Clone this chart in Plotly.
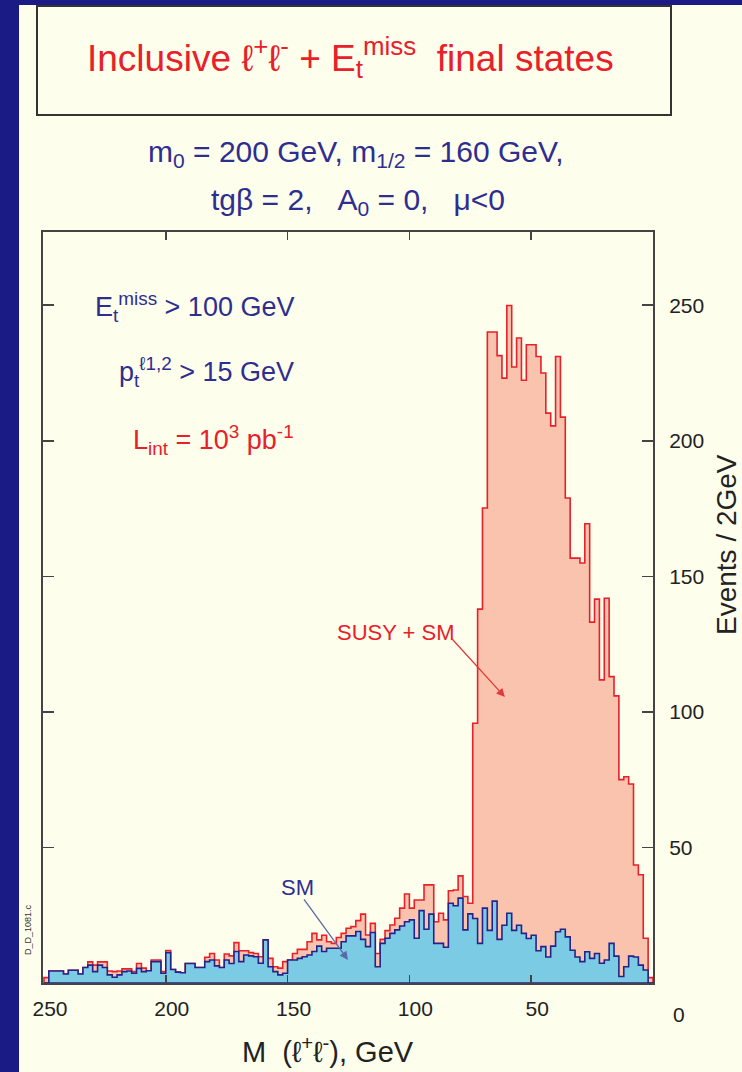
import numpy as np
import plotly.graph_objects as go

# ---------------- data ----------------
bin_width = 2  # GeV
mass_edges = np.arange(0, 252, bin_width)  # 0 ... 250 GeV, 125 bins

# SM background, events / 2 GeV, bins from M = 0-2 up to 248-250
sm = [
    0.0, 4.8, 6.6, 9.6, 9.9, 6.0, 2.4, 9.9, 14.6, 8.5,
    7.3, 10.9, 9.1, 11.5, 7.9, 9.6, 12.1, 17.0, 19.8, 18.9,
    13.6, 9.6, 13.4, 11.9, 17.6, 16.4, 18.3, 21.3, 19.4, 25.7,
    21.3, 16.1, 30.2, 19.4, 27.6, 14.6, 23.8, 25.5, 19.6, 31.3,
    28.5, 29.4, 13.2, 14.6, 14.6, 25.4, 19.8, 26.7, 16.5, 23.3,
    22.6, 21.0, 19.6, 18.3, 16.5, 14.6, 6.0, 18.6, 13.4, 16.1,
    19.0, 17.4, 17.4, 15.2, 12.8, 12.8, 12.8, 11.6, 13.6, 11.6,
    10.3, 9.7, 9.1, 8.5, 8.5, 3.6, 3.0, 4.2, 6.0, 15.9,
    7.3, 9.7, 10.0, 10.3, 7.9, 11.6, 7.2, 8.5, 5.7, 6.3,
    8.5, 7.9, 5.7, 5.7, 7.2, 7.2, 3.8, 4.0, 5.0, 11.2,
    3.6, 7.9, 7.9, 4.5, 4.2, 5.4, 3.6, 4.4, 4.2, 3.0,
    2.1, 3.0, 5.7, 6.6, 4.2, 6.6, 5.7, 3.3, 4.7, 4.7,
    3.3, 4.4, 4.4, 4.4, 0.0,
]

# SUSY + SM, events / 2 GeV
total = [
    2.0, 16.5, 39.9, 43.5, 73.4, 76.1, 75.0, 105.9, 113.0, 141.9,
    111.8, 141.6, 133.1, 169.4, 154.9, 156.7, 156.7, 178.9, 208.7, 231.1,
    205.5, 210.2, 225.0, 231.1, 235.4, 235.4, 222.3, 237.9, 227.2, 249.9,
    223.1, 231.4, 240.1, 240.1, 175.2, 137.9, 95.8, 29.4, 31.9, 39.5,
    34.3, 34.0, 23.3, 25.7, 22.6, 36.2, 36.2, 30.6, 30.6, 27.6,
    32.8, 27.6, 23.9, 21.4, 19.3, 16.1, 10.9, 22.0, 17.7, 25.4,
    23.0, 20.8, 20.2, 18.3, 16.8, 14.6, 15.2, 17.6, 15.9, 18.3,
    15.2, 12.4, 12.4, 10.9, 8.5, 7.9, 5.5, 6.0, 9.1, 15.9,
    9.7, 10.9, 11.2, 11.9, 11.9, 14.9, 10.0, 10.7, 5.7, 8.5,
    10.9, 9.5, 5.7, 5.7, 7.2, 7.2, 3.8, 4.0, 5.0, 12.0,
    4.2, 8.5, 8.5, 4.5, 5.5, 7.2, 4.2, 5.2, 5.2, 4.4,
    4.2, 4.4, 7.8, 7.8, 6.6, 7.8, 5.7, 3.3, 4.7, 4.7,
    3.3, 4.4, 4.4, 4.4, 2.0,
]

x_ticks = [50, 100, 150, 200, 250]
x_tick_labels = ["50", "100", "150", "200", "250"]
y_ticks = [50, 100, 150, 200, 250]
y_tick_labels = ["50", "100", "150", "200", "250"]

# ---------------- styling ----------------
FONT = "Liberation Sans, Arial, Helvetica, sans-serif"
CREAM = "#fefeec"
NAVY = "#1b1b86"
RED = "#e8202a"
SALMON = "#f9c3ad"
BLUE_LINE = "#23238a"
LIGHT_BLUE = "#7ccbe4"
TEXT_BLUE = "#2e2e90"
AXIS = "#444444"

W, H = 742, 1072
PL, PR, PT, PB = 43, 653, 232, 983  # plot area in pixels


def fx(px):
    return (px - PL) / (PR - PL)


def fy(py):
    return (PB - py) / (PB - PT)


def step_path(vals):
    xs = [mass_edges[0]] + list(mass_edges[:-1]) + [mass_edges[-1], mass_edges[-1], mass_edges[0]]
    ys = [0] + list(vals) + [vals[-1], 0, 0]
    return xs, ys


fig = go.Figure()

tx, ty = step_path(total)
fig.add_trace(go.Scatter(
    x=tx, y=ty, mode="lines", line=dict(shape="hv", color=RED, width=1.6),
    fill="toself", fillcolor=SALMON, hoverinfo="skip", showlegend=False,
))
sx, sy = step_path(sm)
fig.add_trace(go.Scatter(
    x=sx, y=sy, mode="lines", line=dict(shape="hv", color=BLUE_LINE, width=1.6),
    fill="toself", fillcolor=LIGHT_BLUE, hoverinfo="skip", showlegend=False,
))

annotations = [
    # title in box
    dict(text="Inclusive ℓ<sup>+</sup>ℓ<sup>-</sup> + E<sub>t</sub><sup>miss</sup>  final states",
         x=fx(350), y=fy(58), font=dict(size=37, color=RED)),
    dict(text="m<sub>0</sub> = 200 GeV, m<sub>1/2</sub> = 160 GeV,",
         x=fx(356), y=fy(154), font=dict(size=30, color=TEXT_BLUE)),
    dict(text="tgβ = 2,   A<sub>0</sub> = 0,   μ&lt;0",
         x=fx(358), y=fy(202), font=dict(size=30, color=TEXT_BLUE)),
    # cuts inside plot
    dict(text="E<sub>t</sub><sup>miss</sup> > 100 GeV", x=fx(296), y=fy(307), xanchor="right",
         font=dict(size=27, color=TEXT_BLUE)),
    dict(text="p<sub>t</sub><sup>ℓ1,2</sup> > 15 GeV", x=fx(296), y=fy(372), xanchor="right",
         font=dict(size=27, color=TEXT_BLUE)),
    dict(text="L<sub>int</sub> = 10<sup>3</sup> pb<sup>-1</sup>", x=fx(296), y=fy(440), xanchor="right",
         font=dict(size=27, color=RED)),
    dict(text="SUSY + SM", x=fx(396), y=fy(632), font=dict(size=22, color=RED)),
    dict(text="SM", x=fx(297), y=fy(887), font=dict(size=22, color=TEXT_BLUE)),
    # axis titles and extra labels
    dict(text="M  (ℓ<sup>+</sup>ℓ<sup>-</sup>), GeV", x=fx(328), y=fy(1050), font=dict(size=29, color="#222")),
    dict(text="Events / 2GeV", x=fx(726), y=fy(545), textangle=-90, font=dict(size=28, color="#222")),
    dict(text="0", x=fx(679), y=fy(1014), font=dict(size=21, color="#222")),
    dict(text="D_D_1081.c", x=fx(28), y=fy(930), textangle=-90, font=dict(size=9, color="#333")),
]
for a in annotations:
    a.setdefault("xref", "paper")
    a.setdefault("yref", "paper")
    a.setdefault("showarrow", False)
    a.setdefault("xanchor", "center")
    a.setdefault("yanchor", "middle")

# arrows
annotations.append(dict(x=60.8, y=105.5, ax=83.3, ay=127.7, xref="x", yref="y", axref="x", ayref="y",
                        text="", showarrow=True, arrowhead=2, arrowsize=1.3, arrowwidth=1.3,
                        arrowcolor="#e03a3a"))
annotations.append(dict(x=125.2, y=8.5, ax=143.7, ay=31.4, xref="x", yref="y", axref="x", ayref="y",
                        text="", showarrow=True, arrowhead=2, arrowsize=1.3, arrowwidth=1.3,
                        arrowcolor="#5a6aa8"))

shapes = [
    # title box
    dict(type="rect", xref="paper", yref="paper", x0=fx(37), x1=fx(671), y0=fy(115), y1=fy(6),
         line=dict(color="#333333", width=2), fillcolor=CREAM, layer="below"),
    # navy frame strips
    dict(type="rect", xref="paper", yref="paper", x0=fx(0), x1=fx(19), y0=fy(H), y1=fy(0),
         line=dict(width=0), fillcolor=NAVY, layer="above"),
    dict(type="rect", xref="paper", yref="paper", x0=fx(0), x1=fx(W), y0=fy(5), y1=fy(0),
         line=dict(width=0), fillcolor=NAVY, layer="above"),
]

fig.update_layout(
    width=W, height=H,
    margin=dict(l=PL, r=W - PR, t=PT, b=H - PB, pad=0),
    paper_bgcolor=CREAM, plot_bgcolor=CREAM,
    font=dict(family=FONT, color="#222"),
    showlegend=False,
    annotations=annotations,
    shapes=shapes,
    xaxis=dict(
        range=[250.4, 0], tickvals=x_ticks, ticktext=x_tick_labels,
        ticks="inside", ticklen=8, tickwidth=1.5, tickcolor=AXIS,
        showline=True, linecolor=AXIS, linewidth=2, mirror="ticks",
        showgrid=False, zeroline=False, tickfont=dict(size=21, color="#222"),
        ticklabelshift=-6, ticklabelstandoff=6,
    ),
    yaxis=dict(
        range=[0, 277], side="right", tickvals=y_ticks, ticktext=y_tick_labels,
        ticks="inside", ticklen=11, tickwidth=1.5, tickcolor=AXIS,
        showline=True, linecolor=AXIS, linewidth=2, mirror="ticks",
        showgrid=False, zeroline=False, tickfont=dict(size=21, color="#222"),
        ticklabelstandoff=10,
    ),
)

fig.write_html(
    "out.html",
    config={"displayModeBar": False, "staticPlot": True},
    post_script="document.body.style.margin='0';document.body.style.overflow='hidden';"
                "document.body.style.background='" + CREAM + "';",
)
